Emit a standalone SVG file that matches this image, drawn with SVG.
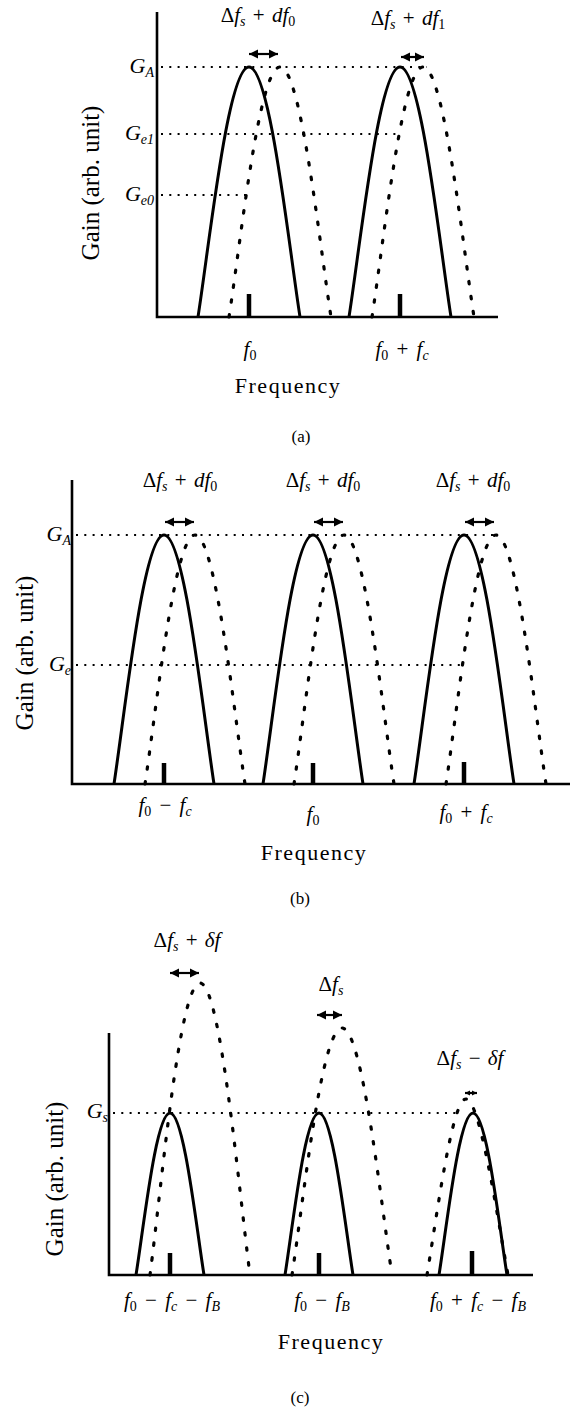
<svg xmlns="http://www.w3.org/2000/svg" width="573" height="1408" viewBox="0 0 573 1408" font-family="'Liberation Serif', 'Times New Roman', 'DejaVu Serif', serif">
<style>
.bg{fill:#fff}
.ax{stroke:#000;stroke-width:2.6;fill:none}
.sol{stroke:#000;stroke-width:3;fill:none}
.dc{stroke:#000;stroke-width:3.2;fill:none;stroke-dasharray:2.5 12.5;stroke-linecap:round}
.dl{stroke:#000;stroke-width:2;fill:none;stroke-dasharray:2 6.3}
.tk{stroke:#000;stroke-width:4.5}
.ar{stroke:#000;stroke-width:2.2;fill:none}
text{font-family:'Liberation Serif', 'Times New Roman', 'DejaVu Serif', serif;fill:#000}
.lbl{font-size:21px;word-spacing:2px}
.bl{font-size:21px;word-spacing:3px}
.i{font-style:italic}
.sb{font-size:14px;font-style:italic}
.sn{font-size:14px}
.gl{font-size:22px;font-style:italic}
.yl{font-size:25px}
.fq{font-size:22px;letter-spacing:1.5px}
.cap{font-size:17px}
</style>
<defs>
<marker id="ah" viewBox="0 0 10 10" refX="10" refY="5" markerWidth="9" markerHeight="10" orient="auto-start-reverse" markerUnits="userSpaceOnUse"><path d="M0,0 L10,5 L0,10 z" fill="#000"/></marker>
<marker id="ahs" viewBox="0 0 10 10" refX="10" refY="5" markerWidth="5" markerHeight="7" orient="auto-start-reverse" markerUnits="userSpaceOnUse"><path d="M0,0 L10,5 L0,10 z" fill="#000"/></marker>
</defs>
<rect class="bg" x="0" y="0" width="573" height="1408"/>

<!-- Panel (a) -->
<g id="panel-a">
  <g id="a-axes">
    <path class="ax" d="M157,12 L157,317 L498,317"/>
  </g>
  <g id="a-levels">
    <line class="dl" x1="161" y1="67" x2="427" y2="67"/>
    <line class="dl" x1="161" y1="134" x2="400" y2="134"/>
    <line class="dl" x1="161" y1="195" x2="250" y2="195"/>
  </g>
  <g id="a-curves">
    <path class="sol" d="M198,317 C210,239.5 228.1,67 249,67 C269.9,67 288,239.5 300,317"/>
    <path class="dc" d="M229,317 C241,239.5 259.1,67 280,67 C300.9,67 319,239.5 331,317"/>
    <path class="sol" d="M349,317 C361,239.5 379.1,67 400,67 C420.9,67 439,239.5 451,317"/>
    <path class="dc" d="M372,317 C384,239.5 402.1,67 423,67 C443.9,67 462,239.5 474,317"/>
  </g>
  <g id="a-ticks">
    <line class="tk" x1="249" y1="294" x2="249" y2="317"/>
    <line class="tk" x1="400" y1="294" x2="400" y2="317"/>
  </g>
  <g id="a-arrows">
    <line class="ar" x1="249" y1="54" x2="278" y2="54" marker-start="url(#ah)" marker-end="url(#ah)"/>
    <line class="ar" x1="401" y1="57" x2="424" y2="57" marker-start="url(#ah)" marker-end="url(#ah)"/>
  </g>
  <g id="a-labels">
    <text class="lbl" x="258" y="22" text-anchor="middle">Δ<tspan class="i">f</tspan><tspan class="sb" dy="4">s</tspan><tspan dy="-4"> + </tspan><tspan class="i">df</tspan><tspan class="sn" dy="4">0</tspan></text>
    <text class="lbl" x="408" y="25" text-anchor="middle">Δ<tspan class="i">f</tspan><tspan class="sb" dy="4">s</tspan><tspan dy="-4"> + </tspan><tspan class="i">df</tspan><tspan class="sn" dy="4">1</tspan></text>
    <text class="gl" x="154" y="73" text-anchor="end">G<tspan class="sb" dy="4">A</tspan></text>
    <text class="gl" x="154" y="140" text-anchor="end">G<tspan class="sb" dy="4">e</tspan><tspan class="sn">1</tspan></text>
    <text class="gl" x="154" y="201" text-anchor="end">G<tspan class="sb" dy="4">e</tspan><tspan class="sn">0</tspan></text>
    <text class="bl" x="250" y="356" text-anchor="middle"><tspan class="i">f</tspan><tspan class="sn" dy="4">0</tspan></text>
    <text class="bl" x="402" y="356" text-anchor="middle"><tspan class="i">f</tspan><tspan class="sn" dy="4">0</tspan><tspan dy="-4"> + </tspan><tspan class="i">f</tspan><tspan class="sb" dy="4">c</tspan></text>
    <text class="fq" x="288" y="393" text-anchor="middle">Frequency</text>
    <text class="yl" x="0" y="0" text-anchor="middle" transform="translate(99,183) rotate(-90)">Gain (arb. unit)</text>
    <text class="cap" x="301" y="442" text-anchor="middle">(a)</text>
  </g>
</g>

<!-- Panel (b) -->
<g id="panel-b">
  <g id="b-axes">
    <path class="ax" d="M72,480 L72,784 L570,784"/>
  </g>
  <g id="b-levels">
    <line class="dl" x1="76" y1="535" x2="495" y2="535"/>
    <line class="dl" x1="76" y1="665" x2="463" y2="665"/>
  </g>
  <g id="b-curves">
    <path class="sol" d="M114,784 C125.75,706.8 143.5,535 164,535 C184.5,535 202.25,706.8 214,784"/>
    <path class="dc" d="M145,784 C156.75,706.8 174.5,535 195,535 C215.5,535 233.25,706.8 245,784"/>
    <path class="sol" d="M263,784 C274.75,706.8 292.5,535 313,535 C333.5,535 351.25,706.8 363,784"/>
    <path class="dc" d="M294,784 C305.75,706.8 323.5,535 344,535 C364.5,535 382.25,706.8 394,784"/>
    <path class="sol" d="M414,784 C425.75,706.8 443.5,535 464,535 C484.5,535 502.25,706.8 514,784"/>
    <path class="dc" d="M446,784 C457.75,706.8 475.5,535 496,535 C516.5,535 534.25,706.8 546,784"/>
  </g>
  <g id="b-ticks">
    <line class="tk" x1="164" y1="763" x2="164" y2="784"/>
    <line class="tk" x1="313" y1="763" x2="313" y2="784"/>
    <line class="tk" x1="464" y1="762" x2="464" y2="784"/>
  </g>
  <g id="b-arrows">
    <line class="ar" x1="165" y1="522" x2="194" y2="522" marker-start="url(#ah)" marker-end="url(#ah)"/>
    <line class="ar" x1="314" y1="522" x2="343" y2="522" marker-start="url(#ah)" marker-end="url(#ah)"/>
    <line class="ar" x1="465" y1="522" x2="494" y2="522" marker-start="url(#ah)" marker-end="url(#ah)"/>
  </g>
  <g id="b-labels">
    <text class="lbl" x="180" y="487" text-anchor="middle">Δ<tspan class="i">f</tspan><tspan class="sb" dy="4">s</tspan><tspan dy="-4"> + </tspan><tspan class="i">df</tspan><tspan class="sn" dy="4">0</tspan></text>
    <text class="lbl" x="323" y="487" text-anchor="middle">Δ<tspan class="i">f</tspan><tspan class="sb" dy="4">s</tspan><tspan dy="-4"> + </tspan><tspan class="i">df</tspan><tspan class="sn" dy="4">0</tspan></text>
    <text class="lbl" x="473" y="487" text-anchor="middle">Δ<tspan class="i">f</tspan><tspan class="sb" dy="4">s</tspan><tspan dy="-4"> + </tspan><tspan class="i">df</tspan><tspan class="sn" dy="4">0</tspan></text>
    <text class="gl" x="71" y="541" text-anchor="end">G<tspan class="sb" dy="4">A</tspan></text>
    <text class="gl" x="71" y="671" text-anchor="end">G<tspan class="sb" dy="4">e</tspan></text>
    <text class="bl" x="165" y="812" text-anchor="middle"><tspan class="i">f</tspan><tspan class="sn" dy="4">0</tspan><tspan dy="-4"> − </tspan><tspan class="i">f</tspan><tspan class="sb" dy="4">c</tspan></text>
    <text class="bl" x="313" y="821" text-anchor="middle"><tspan class="i">f</tspan><tspan class="sn" dy="4">0</tspan></text>
    <text class="bl" x="466" y="819" text-anchor="middle"><tspan class="i">f</tspan><tspan class="sn" dy="4">0</tspan><tspan dy="-4"> + </tspan><tspan class="i">f</tspan><tspan class="sb" dy="4">c</tspan></text>
    <text class="fq" x="314" y="860" text-anchor="middle">Frequency</text>
    <text class="yl" x="0" y="0" text-anchor="middle" transform="translate(33,653) rotate(-90)">Gain (arb. unit)</text>
    <text class="cap" x="300" y="904" text-anchor="middle">(b)</text>
  </g>
</g>

<!-- Panel (c) -->
<g id="panel-c">
  <g id="c-axes">
    <path class="ax" d="M109,1033 L109,1275 L533,1275"/>
  </g>
  <g id="c-levels">
    <line class="dl" x1="113" y1="1113" x2="461" y2="1113"/>
  </g>
  <g id="c-curves">
    <path class="sol" d="M136,1275 C144,1224.8 156.1,1113 170,1113 C183.9,1113 196,1224.8 204,1275"/>
    <path class="sol" d="M285,1275 C293,1224.8 305.1,1113 319,1113 C332.9,1113 345,1224.8 353,1275"/>
    <path class="sol" d="M439,1275 C447,1224.8 459.1,1113 473,1113 C486.9,1113 499,1224.8 507,1275"/>
    <path class="dc" d="M150,1275 C161.75,1184.5 179.5,983 200,983 C220.5,983 238.25,1184.5 250,1275"/>
    <path class="dc" d="M292,1275 C303.75,1198.4 321.5,1028 342,1028 C362.5,1028 380.25,1198.4 392,1275"/>
    <path class="dc" d="M427,1275 C437,1215 452,1099 466,1099 C480,1099 497,1215 508,1275"/>
  </g>
  <g id="c-ticks">
    <line class="tk" x1="170" y1="1253" x2="170" y2="1275"/>
    <line class="tk" x1="319" y1="1253" x2="319" y2="1275"/>
    <line class="tk" x1="472" y1="1251" x2="472" y2="1275"/>
  </g>
  <g id="c-arrows">
    <line class="ar" x1="170" y1="973" x2="199" y2="973" marker-start="url(#ah)" marker-end="url(#ah)"/>
    <line class="ar" x1="317" y1="1015" x2="342" y2="1015" marker-start="url(#ah)" marker-end="url(#ah)"/>
    <line class="ar" x1="465" y1="1093" x2="477" y2="1093" marker-start="url(#ahs)" marker-end="url(#ahs)"/>
  </g>
  <g id="c-labels">
    <text class="lbl" x="187" y="947" text-anchor="middle">Δ<tspan class="i">f</tspan><tspan class="sb" dy="4">s</tspan><tspan dy="-4"> + </tspan><tspan class="i">δf</tspan></text>
    <text class="lbl" x="331" y="991" text-anchor="middle">Δ<tspan class="i">f</tspan><tspan class="sb" dy="4">s</tspan></text>
    <text class="lbl" x="470" y="1065" text-anchor="middle">Δ<tspan class="i">f</tspan><tspan class="sb" dy="4">s</tspan><tspan dy="-4"> − </tspan><tspan class="i">δf</tspan></text>
    <text class="gl" x="108" y="1118" text-anchor="end">G<tspan class="sb" dy="4">s</tspan></text>
    <text class="bl" x="172" y="1307" text-anchor="middle"><tspan class="i">f</tspan><tspan class="sn" dy="4">0</tspan><tspan dy="-4"> − </tspan><tspan class="i">f</tspan><tspan class="sb" dy="4">c</tspan><tspan dy="-4"> − </tspan><tspan class="i">f</tspan><tspan class="sb" dy="4">B</tspan></text>
    <text class="bl" x="322" y="1307" text-anchor="middle"><tspan class="i">f</tspan><tspan class="sn" dy="4">0</tspan><tspan dy="-4"> − </tspan><tspan class="i">f</tspan><tspan class="sb" dy="4">B</tspan></text>
    <text class="bl" x="478" y="1307" text-anchor="middle"><tspan class="i">f</tspan><tspan class="sn" dy="4">0</tspan><tspan dy="-4"> + </tspan><tspan class="i">f</tspan><tspan class="sb" dy="4">c</tspan><tspan dy="-4"> − </tspan><tspan class="i">f</tspan><tspan class="sb" dy="4">B</tspan></text>
    <text class="fq" x="331" y="1349" text-anchor="middle">Frequency</text>
    <text class="yl" x="0" y="0" text-anchor="middle" transform="translate(63,1179) rotate(-90)">Gain (arb. unit)</text>
    <text class="cap" x="300" y="1403" text-anchor="middle">(c)</text>
  </g>
</g>
</svg>
